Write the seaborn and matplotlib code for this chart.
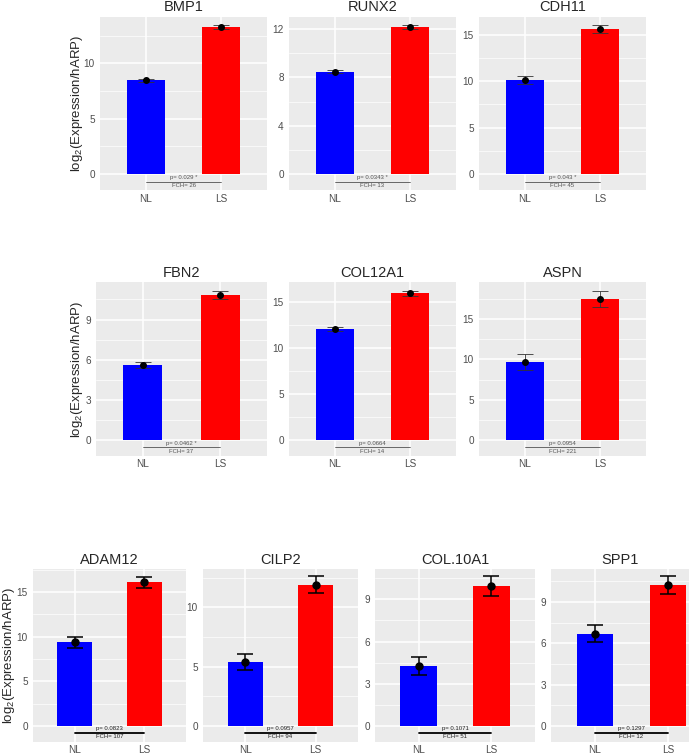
import seaborn as sns
import matplotlib.pyplot as plt
import matplotlib.transforms as mtransforms
from matplotlib.ticker import FixedLocator
import pandas as pd
import numpy as np

# Styling, ggplot-like grey panels
sns.set_theme(style="darkgrid", rc={
    "axes.facecolor": "#EBEBEB",
    "grid.color": "white",
    "xtick.color": "#333333",
    "ytick.color": "#333333",
    "xtick.major.size": 2.0,
    "ytick.major.size": 2.2,
    "xtick.major.width": 0.8,
    "ytick.major.width": 0.8,
    "xtick.minor.size": 0,
    "ytick.minor.size": 0,
})
plt.rcParams["font.family"] = ["Liberation Sans", "DejaVu Sans"]
plt.rcParams["mathtext.default"] = "regular"

# Data
groups = ["NL", "LS"]
genes = ["BMP1", "RUNX2", "CDH11", "FBN2", "COL12A1", "ASPN",
         "ADAM12", "CILP2", "COL.10A1", "SPP1"]
nl_mean = [8.48, 8.47, 10.1, 5.6, 12.13, 9.68, 9.37, 5.37, 4.26, 6.7]
nl_err = [0.12, 0.13, 0.45, 0.25, 0.25, 1.0, 0.62, 0.68, 0.66, 0.63]
ls_mean = [13.3, 12.17, 15.64, 10.85, 15.98, 17.47, 16.1, 11.9, 9.93, 10.25]
ls_err = [0.18, 0.14, 0.43, 0.3, 0.25, 1.03, 0.6, 0.73, 0.71, 0.64]
p_labels = ["p= 0.029 *", "p= 0.0343 *", "p= 0.043 *", "p= 0.0462 *", "p= 0.0664",
            "p= 0.0954", "p= 0.0823", "p= 0.0957", "p= 0.1071", "p= 0.1297"]
fch_labels = ["FCH= 26", "FCH= 13", "FCH= 45", "FCH= 37", "FCH= 14",
              "FCH= 221", "FCH= 107", "FCH= 94", "FCH= 51", "FCH= 12"]
y_steps = [5, 4, 5, 3, 5, 5, 5, 5, 3, 3]

# Layout (pixels) and axis ranges
W, H = 691, 755
boxes = [(100, 267, 17, 190), (289, 456, 17, 190), (479, 646, 17, 190),
         (96, 267, 282.5, 455.7), (289, 456, 282.5, 455.7), (479, 646, 282.5, 455.7),
         (33, 186, 569.3, 741.7), (203, 358, 569.3, 741.7),
         (375, 535, 569.3, 741.7), (551, 689, 569.3, 741.7)]
ylims = [(-1.45, 14.2), (-1.3, 13.0), (-1.7, 16.9), (-1.17, 11.77), (-1.67, 17.17),
         (-1.9, 19.5), (-1.76, 17.55), (-1.32, 13.2), (-1.12, 11.14), (-1.14, 11.37)]
xlims = [(-0.6, 1.6)] * 9 + [(-0.6, 1.29)]

fig = plt.figure(figsize=(W / 100, H / 100), dpi=100)

for i, gene in enumerate(genes):
    x0, x1, y0, y1 = boxes[i]
    ax = fig.add_axes([x0 / W, 1 - y1 / H, (x1 - x0) / W, (y1 - y0) / H])
    bottom_row = i >= 6

    df = pd.DataFrame({"group": groups,
                       "mean": [nl_mean[i], ls_mean[i]],
                       "err": [nl_err[i], ls_err[i]]})
    sns.barplot(data=df, x="group", y="mean", hue="group",
                palette={"NL": "#0000FF", "LS": "#FF0000"}, width=0.5,
                errorbar=None, legend=False, saturation=1, linewidth=0, ax=ax)

    ecol = "black" if bottom_row else "#333333"
    ax.errorbar(x=np.arange(2), y=df["mean"], yerr=df["err"], fmt="o",
                color="black", ms=5 if bottom_row else 4, ecolor=ecol,
                elinewidth=1.1 if bottom_row else 0.6,
                capthick=1.1 if bottom_row else 0.6, capsize=6, zorder=4)

    # significance annotation below the bars
    trans = mtransforms.blended_transform_factory(ax.transData, ax.transAxes)
    ly = 0.052 if bottom_row else 0.048
    ax.plot([0, 1], [ly, ly], transform=trans, color=ecol,
            lw=1.3 if bottom_row else 0.5, zorder=4, clip_on=False)
    tcol = "#222222" if bottom_row else "#555555"
    ax.text(0.5, ly + 0.022, p_labels[i], transform=trans, ha="center",
            va="center", fontsize=4.3, color=tcol)
    ax.text(0.5, ly - 0.023, fch_labels[i], transform=trans, ha="center",
            va="center", fontsize=4.3, color=tcol)

    step = y_steps[i]
    lo, hi = ylims[i]
    ax.set_ylim(lo, hi)
    ax.set_xlim(*xlims[i])
    majors = np.arange(0, hi, step)
    minors = np.arange(-step / 2, hi, step)
    ax.yaxis.set_major_locator(FixedLocator(majors))
    ax.yaxis.set_minor_locator(FixedLocator([m for m in minors if lo < m < hi]))
    ax.set_yticklabels([f"{int(m)}" for m in majors])

    ax.xaxis.grid(True, which="major", color="white", lw=1.1)
    ax.yaxis.grid(True, which="major", color="white", lw=1.1)
    ax.yaxis.grid(True, which="minor", color="white", lw=0.5)
    ax.set_axisbelow(True)
    for s in ax.spines.values():
        s.set_visible(False)

    ax.tick_params(axis="y", labelsize=7.2, labelcolor="#4D4D4D", pad=1.5)
    ax.tick_params(axis="x", labelsize=7.2, labelcolor="#4D4D4D", pad=0.6)
    ax.set_xlabel("")
    ax.set_ylabel("")
    ax.set_title(gene, fontsize=10.5, pad=4)

# shared y labels, one per row
ylab = r"log$_2$(Expression/hARP)"
fig.text(77 / W, 1 - 103 / H, ylab, rotation=90, ha="center", va="center", fontsize=9.5)
fig.text(77 / W, 1 - 369 / H, ylab, rotation=90, ha="center", va="center", fontsize=9.5)
fig.text(9 / W, 1 - 655 / H, ylab, rotation=90, ha="center", va="center", fontsize=9.5)

plt.savefig("out.png", dpi=100)
